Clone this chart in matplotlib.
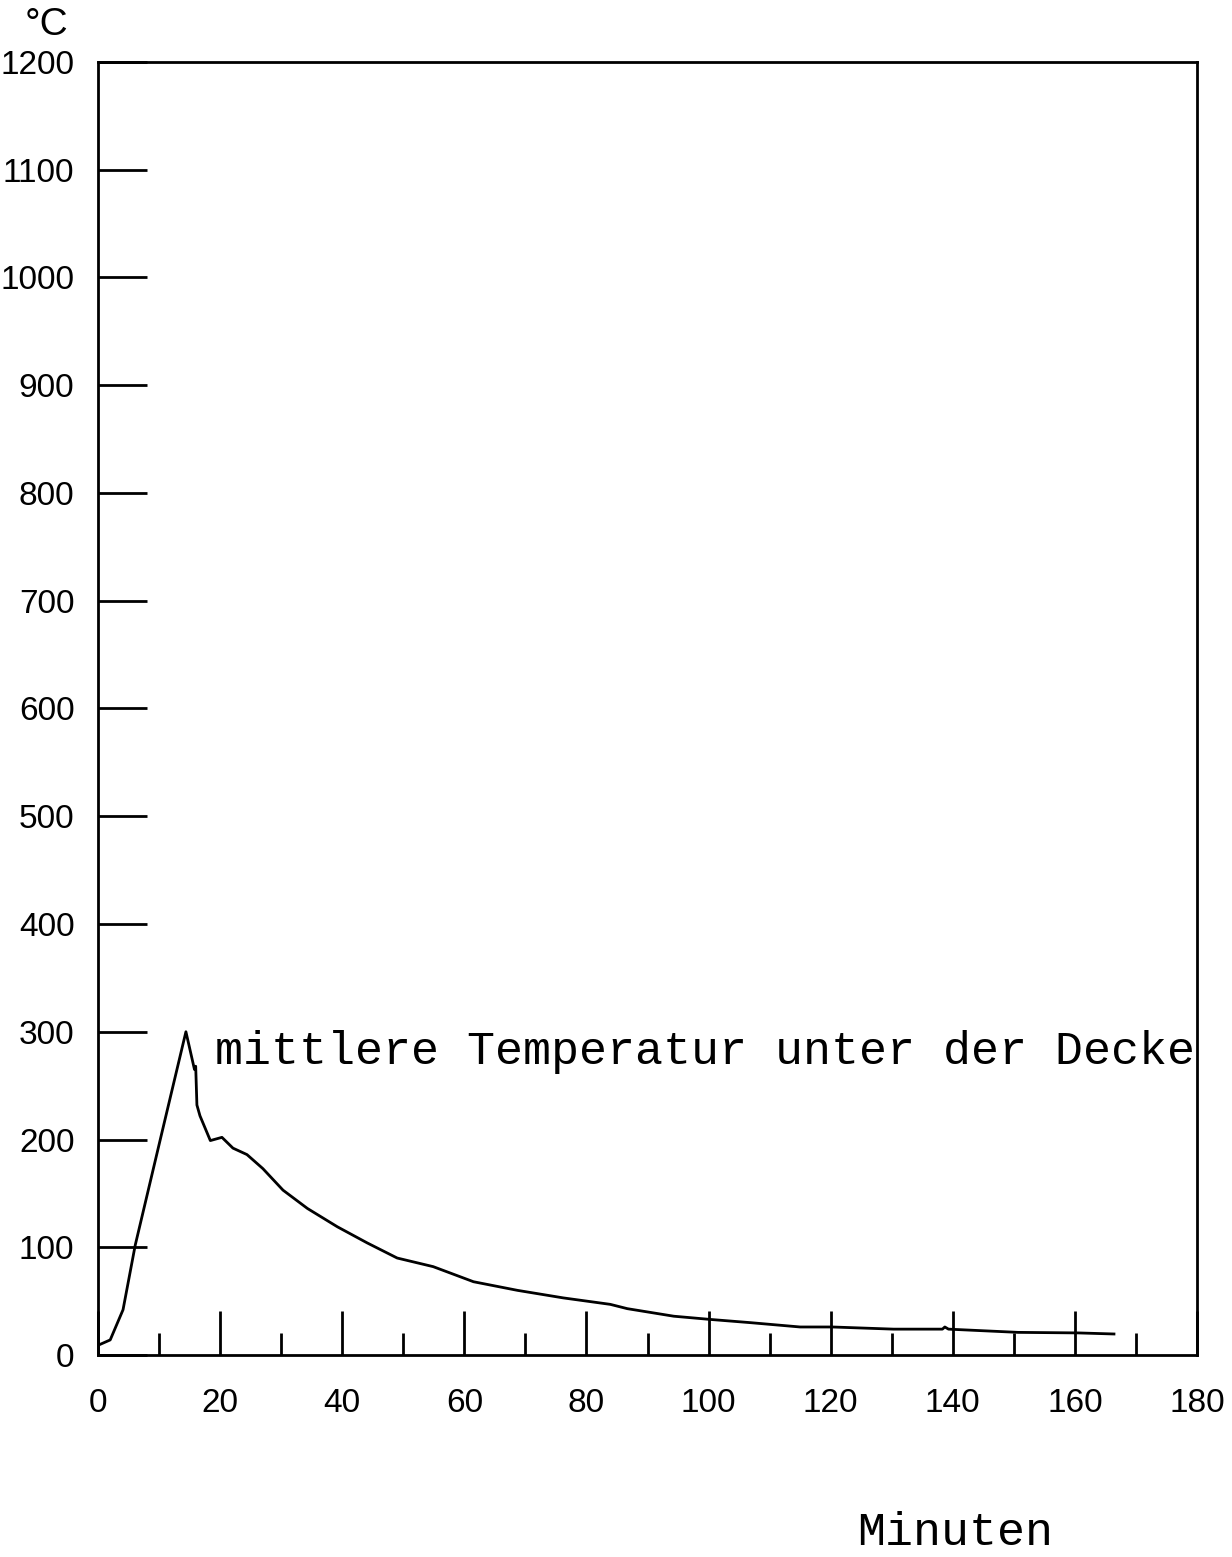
import numpy as np
import matplotlib.pyplot as plt
from matplotlib.ticker import MultipleLocator

# mean temperature below the ceiling, degC over minutes
minutes = [0, 2, 4.1, 6.1, 10.2, 14.4, 15.8, 16.0, 16.2, 16.7, 18.4, 20.3,
           22.1, 24.4, 27.0, 30.3, 34.3, 39.2, 44.1, 49.0, 54.9, 61.5, 68.7,
           76.2, 83.9, 86.7, 94.3, 100.3, 106.9, 115.0, 120.3, 130.3, 138.3,
           138.7, 139.3, 150.7, 160.5, 166.4]
temp = [9, 14, 42, 102, 200, 300, 265, 268, 232, 222, 199, 202,
        192, 186, 173, 153, 136, 119, 104, 90, 82, 68, 60,
        53, 47, 43, 36, 33, 30, 26, 26, 24, 24,
        26, 24, 21, 20.5, 19.5]

y_ticks = list(range(0, 1201, 100))
x_ticks = list(range(0, 181, 20))

label_font = "Liberation Sans"
mono_font = "Liberation Mono"

fig = plt.figure(figsize=(12.32, 15.57), dpi=100)
ax = fig.add_axes([98 / 1232, 1 - 1355 / 1557, (1197 - 98) / 1232, (1355 - 62) / 1557])

ax.plot(minutes, temp, color="black", lw=2.0)

ax.set_xlim(0, 180)
ax.set_ylim(0, 1200)
ax.set_xticks(x_ticks)
ax.set_yticks(y_ticks)
ax.xaxis.set_minor_locator(MultipleLocator(10))

for s in ax.spines.values():
    s.set_linewidth(2.0)

ax.tick_params(axis="y", direction="in", length=35, width=2.0, pad=17,
               labelsize=24)
ax.tick_params(axis="x", which="major", direction="in", length=32, width=2.0,
               pad=24, labelsize=24)
ax.tick_params(axis="x", which="minor", direction="in", length=16, width=2.0)
for lab in ax.get_xticklabels() + ax.get_yticklabels():
    lab.set_family(label_font)

ax.text(19.2, 281, "mittlere Temperatur unter der Decke", family=mono_font,
        fontsize=33.6, va="center", ha="left", color="black")

fig.text(46 / 1232, 1 - 25 / 1557, "°C", family=label_font, fontsize=28,
         ha="center", va="center")
fig.text(955 / 1232, 1 - 1533 / 1557, "Minuten", family=mono_font,
         fontsize=33.6, ha="center", va="center")

fig.savefig("out.png", dpi=100, facecolor="white")
